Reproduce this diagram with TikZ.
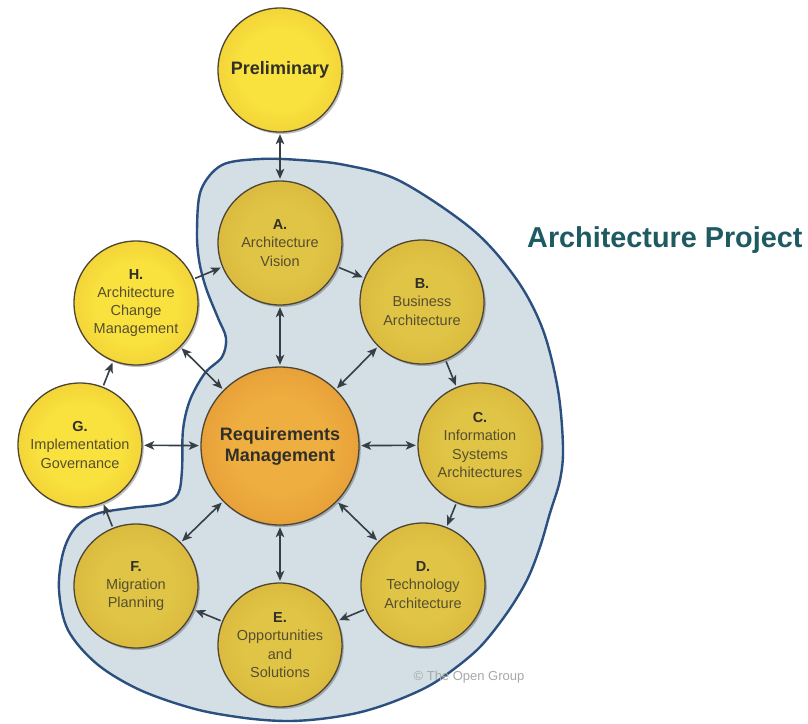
\documentclass[tikz,border=0pt]{standalone}
\usepackage{fontspec}
\setmainfont{Liberation Sans}
\usetikzlibrary{arrows.meta,shadows}

\definecolor{yelin}{HTML}{F9E23E}
\definecolor{yelout}{HTML}{E3B029}
\definecolor{musin}{HTML}{E0C445}
\definecolor{musout}{HTML}{CDA431}
\definecolor{orin}{HTML}{EEAE40}
\definecolor{orout}{HTML}{D98029}
\definecolor{blobfill}{HTML}{D3DFE5}
\definecolor{blobline}{HTML}{2B4F7E}
\definecolor{arrowc}{HTML}{363E46}
\definecolor{circline}{HTML}{4E4634}
\definecolor{labc}{HTML}{302F2A}
\definecolor{namec}{HTML}{564F31}
\definecolor{titlec}{HTML}{1E5A62}
\definecolor{copyc}{HTML}{A8A8A8}

\pgfdeclareradialshading{yelshade}{\pgfpoint{0bp}{0bp}}{color(0bp)=(yelin); color(16bp)=(yelin); color(50bp)=(yelout)}
\pgfdeclareradialshading{musshade}{\pgfpoint{0bp}{0bp}}{color(0bp)=(musin); color(15bp)=(musin); color(50bp)=(musout)}
\pgfdeclareradialshading{orshade}{\pgfpoint{0bp}{0bp}}{color(0bp)=(orin); color(15bp)=(orin); color(50bp)=(orout)}

\newcommand\phaselab[1]{{\bfseries\color{labc}#1}}

\begin{document}
\begin{tikzpicture}[x=1pt,y=-1pt,
  phase/.style={circle, minimum size=124pt, inner sep=0pt, draw=circline,
    line width=1.3pt, align=center, text=namec,
    font=\fontsize{14.5}{18.2}\selectfont,
    drop shadow={shadow xshift=1.8pt, shadow yshift=-2pt, opacity=0.25, fill=black}},
  outer/.style={phase, shading=yelshade},
  inner/.style={phase, shading=musshade},
  reqstyle/.style={phase, minimum size=158pt, shading=orshade, text=labc,
    font=\bfseries\fontsize{18}{21}\selectfont},
  link/.style={draw=arrowc, line width=1.6pt, -{Stealth[length=10pt,width=8.5pt,inset=2.5pt]},
    shorten >=1.5pt, shorten <=1.5pt},
  both/.style={link, {Stealth[length=10pt,width=8.5pt,inset=2.5pt]}-{Stealth[length=10pt,width=8.5pt,inset=2.5pt]}}
]
\useasboundingbox (0,0) rectangle (808,723);
\fill[white] (0,0) rectangle (808,723);

% project region
\draw[blobline, line width=2.4pt, fill=blobfill]
  plot[smooth cycle, tension=0.55] coordinates {
  (197,230) (201,190) (222,165) (260,159) (300,160) (345,165) (400,181)
  (473,230) (517,280) (543,330) (558,390) (563,447) (560,480) (550,513)
  (540,547) (527,580) (507,613) (480,647) (450,672) (425,688) (390,703)
  (357,713) (320,719) (285,721)
  (245,718) (195,709)
  (140,690) (97,664) (68,630) (59,590) (63,553) (75,528) (96,514)
  (130,508) (163,504) (178,494) (182,470) (183,430) (190,400) (205,373)
  (222,357) (226,338) (218,318) (206,288) (199,260)};

% phases
\node[outer, font=\bfseries\fontsize{18}{21}\selectfont, text=labc] (P) at (280,70) {Preliminary};
\node[inner] (A) at (280,243) {\phaselab{A.}\\Architecture\\Vision};
\node[inner] (B) at (422,302) {\phaselab{B.}\\Business\\Architecture};
\node[inner] (C) at (480,445) {\phaselab{C.}\\Information\\Systems\\Architectures};
\node[inner] (D) at (423,585) {\phaselab{D.}\\Technology\\Architecture};
\node[inner] (E) at (280,645) {\phaselab{E.}\\Opportunities\\and\\Solutions};
\node[inner] (F) at (136,586) {\phaselab{F.}\\Migration\\Planning};
\node[outer] (G) at (80,445) {\phaselab{G.}\\Implementation\\Governance};
\node[outer] (H) at (136,303) {\phaselab{H.}\\Architecture\\Change\\Management};
\node[reqstyle] (R) at (280,446) {Requirements\\Management};

% cycle
\draw[link] (H) -- (A);
\draw[link] (A) -- (B);
\draw[link] (B) -- (C);
\draw[link] (C) -- (D);
\draw[link] (D) -- (E);
\draw[link] (E) -- (F);
\draw[link] (F) -- (G);
\draw[link] (G) -- (H);

% requirements links
\draw[both] (P) -- (A);
\draw[both] (R) -- (A);
\draw[both] (R) -- (B);
\draw[both] (R) -- (C);
\draw[both] (R) -- (D);
\draw[both] (R) -- (E);
\draw[both] (R) -- (F);
\draw[both] (R) -- (G);
\draw[both] (R) -- (H);

% texts
\node[anchor=base west, text=titlec, font=\bfseries\fontsize{28.8}{34}\selectfont, inner sep=0pt] (title) at (527,247) {Architecture Project};
\node[text=copyc, font=\fontsize{13}{15}\selectfont] (copy) at (469,677) {© The Open Group};
\end{tikzpicture}
\end{document}
